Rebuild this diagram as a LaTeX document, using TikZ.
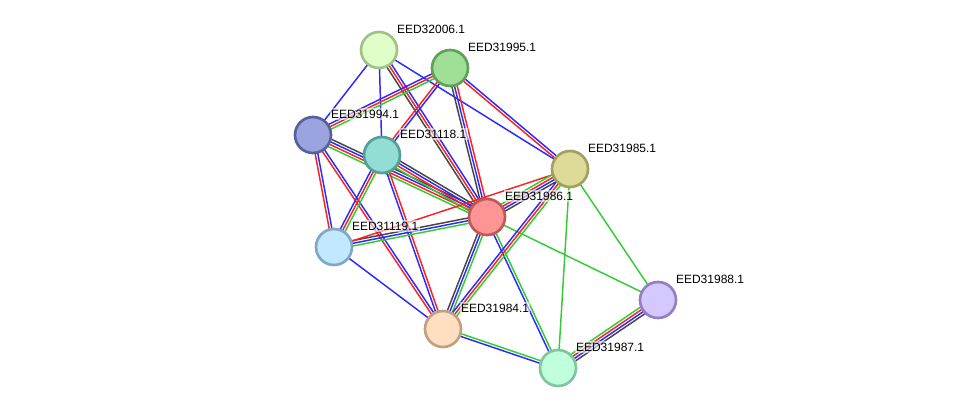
\documentclass[tikz,border=0pt]{standalone}
\usepackage{xcolor}
\usepackage{fontspec}
\setmainfont{Liberation Sans}
\usepackage{tikz}
\usetikzlibrary{math,calc,backgrounds}

\definecolor{lred}{HTML}{FF2020}
\definecolor{lblue}{HTML}{2A2AFF}
\definecolor{lgreen}{HTML}{33CC33}
\definecolor{lgrey}{HTML}{454545}

% bundle of parallel lines between two nodes, one per colour
\newcommand\strlink[3]{%
  \def\nlk{0}%
  \foreach \col in {#3}{\xdef\nlk{\the\numexpr\nlk+1\relax}}%
  \foreach \col [count=\i] in {#3}{%
    \pgfmathsetmacro\offs{(\i-(\nlk+1)/2)*2}%
    \draw[\col] ($(#1)!\offs pt!90:(#2)$) -- ($(#2)!\offs pt!-90:(#1)$);
  }%
}

\begin{document}
\begin{tikzpicture}[x=0.75pt,y=-0.75pt,
  prot/.style={circle,minimum size=27pt,inner sep=0pt,line width=2pt},
  lbl/.style={anchor=west,inner sep=1pt,fill=white,fill opacity=0.55,text opacity=1,
    font=\fontsize{9}{10}\selectfont},
  every path/.append style={line width=1.1pt}]
\useasboundingbox (0,0) rectangle (975,414);
\tikzmath{
	{\node[prot,fill={rgb,255:red,224;green,255;blue,200},draw={rgb,255:red,160;green,194;blue,136}] (e06) at (379,50) {};};
	{\node[prot,fill={rgb,255:red,160;green,224;blue,150},draw={rgb,255:red,94;green,160;blue,92}] (e95) at (450,68) {};};
	{\node[prot,fill={rgb,255:red,156;green,164;blue,224},draw={rgb,255:red,84;green,98;blue,160}] (e94) at (313,135) {};};
	{\node[prot,fill={rgb,255:red,146;green,222;blue,212},draw={rgb,255:red,84;green,160;blue,150}] (e18) at (382,155) {};};
	{\node[prot,fill={rgb,255:red,222;green,219;blue,152},draw={rgb,255:red,160;green,160;blue,96}] (e85) at (570,169) {};};
	{\node[prot,fill={rgb,255:red,255;green,148;blue,148},draw={rgb,255:red,192;green,88;blue,90}] (e86) at (487,217) {};};
	{\node[prot,fill={rgb,255:red,194;green,232;blue,255},draw={rgb,255:red,128;green,168;blue,196}] (e19) at (334,247) {};};
	{\node[prot,fill={rgb,255:red,213;green,199;blue,255},draw={rgb,255:red,147;green,128;blue,196}] (e88) at (658,300) {};};
	{\node[prot,fill={rgb,255:red,255;green,222;blue,194},draw={rgb,255:red,192;green,160;blue,128}] (e84) at (443,329) {};};
	{\node[prot,fill={rgb,255:red,192;green,255;blue,220},draw={rgb,255:red,128;green,196;blue,160}] (e87) at (558,368) {};};
	%
	{\path (e06) ++(16,-21) node[lbl] (l06) {EED32006.1};};
	{\path (e95) ++(16,-21) node[lbl] (l95) {EED31995.1};};
	{\path (e94) ++(16,-21) node[lbl] (l94) {EED31994.1};};
	{\path (e18) ++(16,-21) node[lbl] (l18) {EED31118.1};};
	{\path (e85) ++(16,-21) node[lbl] (l85) {EED31985.1};};
	{\path (e86) ++(16,-21) node[lbl] (l86) {EED31986.1};};
	{\path (e19) ++(16,-21) node[lbl] (l19) {EED31119.1};};
	{\path (e88) ++(16,-21) node[lbl] (l88) {EED31988.1};};
	{\path (e84) ++(16,-21) node[lbl] (l84) {EED31984.1};};
	{\path (e87) ++(16,-21) node[lbl] (l87) {EED31987.1};};
};
\begin{pgfonlayer}{background}
\strlink{e06}{e94}{lblue}
\strlink{e06}{e18}{lblue}
\strlink{e06}{e86}{lgrey,lred,lblue}
\strlink{e06}{e85}{lblue}
\strlink{e95}{e94}{lblue,lred,lgreen}
\strlink{e95}{e18}{lred,lblue}
\strlink{e95}{e86}{lgrey,lblue,lred}
\strlink{e95}{e85}{lred,lblue}
\strlink{e94}{e86}{lgreen,lred,lblue,lgrey}
\strlink{e94}{e19}{lred,lblue}
\strlink{e94}{e84}{lred,lblue}
\strlink{e18}{e86}{lgreen,lred,lblue,lgrey}
\strlink{e18}{e19}{lblue,lred,lgreen}
\strlink{e18}{e84}{lblue,lred}
\strlink{e19}{e86}{lgreen,lblue,lgrey}
\strlink{e19}{e85}{lred}
\strlink{e19}{e84}{lblue}
\strlink{e86}{e85}{lgrey,lblue,lred,lgreen}
\strlink{e86}{e84}{lgrey,lblue,lgreen}
\strlink{e86}{e87}{lblue,lgreen}
\strlink{e86}{e88}{lgreen}
\strlink{e85}{e84}{lblue,lred,lgreen}
\strlink{e85}{e87}{lgreen}
\strlink{e85}{e88}{lgreen}
\strlink{e84}{e87}{lblue,lgreen}
\strlink{e87}{e88}{lgrey,lblue,lred,lgreen}
\end{pgfonlayer}
\end{tikzpicture}
\end{document}
